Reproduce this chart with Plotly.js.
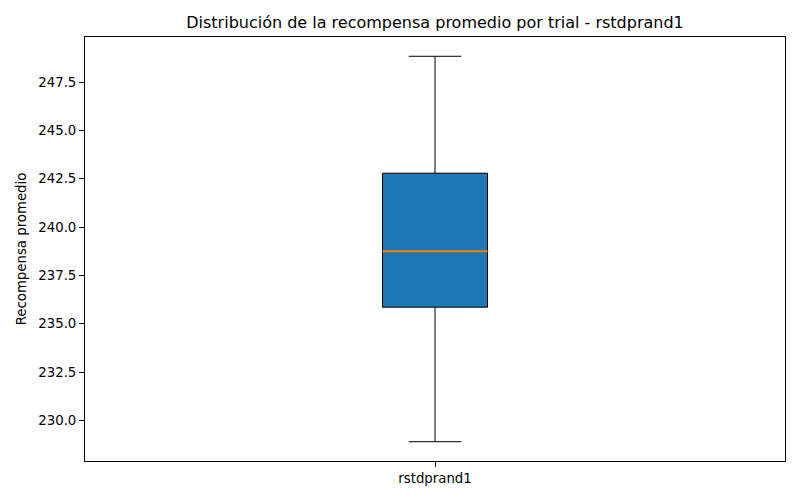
<!DOCTYPE html>
<html>
<head>
<meta charset="utf-8">
<script src="https://cdn.plot.ly/plotly-3.0.1.min.js"></script>
<style>html,body{margin:0;padding:0;background:#fff;}</style>
</head>
<body>
<div id="chart" style="width:800px;height:500px;"></div>
<script>
// Data
const categories = ['rstdprand1'];
const positions = [1];
const lowerWhisker = [228.90];
const q1Values = [235.86];
const medianValues = [238.75];
const q3Values = [242.79];
const upperWhisker = [248.84];
const yTickValues = [230.0, 232.5, 235.0, 237.5, 240.0, 242.5, 245.0, 247.5];
const yTickLabels = ['230.0', '232.5', '235.0', '237.5', '240.0', '242.5', '245.0', '247.5'];

const boxWidth = 0.15;
const font = 'DejaVu Sans, sans-serif';

// matplotlib-style 5% margins
const dataMin = Math.min(...lowerWhisker), dataMax = Math.max(...upperWhisker);
const pad = (dataMax - dataMin) * 0.05;

const boxTrace = {
  type: 'box',
  x: positions,
  q1: q1Values,
  median: medianValues,
  q3: q3Values,
  lowerfence: lowerWhisker,
  upperfence: upperWhisker,
  width: boxWidth,
  whiskerwidth: 0.5,
  fillcolor: '#1f77b4',
  line: {color: '#000000', width: 1},
  boxpoints: false,
  hoverinfo: 'none',
  showlegend: false
};

// orange median lines drawn above the box
const medianShapes = positions.map((p, i) => ({
  type: 'line', xref: 'x', yref: 'y', layer: 'above',
  x0: p - boxWidth / 2, x1: p + boxWidth / 2,
  y0: medianValues[i], y1: medianValues[i],
  line: {color: '#ff7f0e', width: 2}
}));

const layout = {
  width: 800, height: 500,
  paper_bgcolor: '#ffffff', plot_bgcolor: '#ffffff',
  margin: {l: 85, r: 15, t: 37, b: 39, pad: 0},
  font: {family: font, color: '#000000', size: 13.3},
  title: {
    text: 'Distribución de la recompensa promedio por trial - rstdprand1',
    font: {family: font, size: 16, color: '#000000'},
    x: 0.5, xref: 'paper', xanchor: 'center',
    y: 1 - 22 / 500, yref: 'container', yanchor: 'middle'
  },
  shapes: medianShapes,
  xaxis: {
    range: [0.5, 1.5],
    tickmode: 'array', tickvals: positions, ticktext: categories,
    showgrid: false, zeroline: false,
    showline: true, linecolor: '#000000', linewidth: 1, mirror: true,
    ticks: 'outside', ticklen: 5, tickcolor: '#000000', tickwidth: 1,
    tickfont: {family: font, size: 13.3, color: '#000000'}
  },
  yaxis: {
    range: [dataMin - pad, dataMax + pad],
    tickmode: 'array', tickvals: yTickValues, ticktext: yTickLabels,
    showgrid: false, zeroline: false,
    showline: true, linecolor: '#000000', linewidth: 1, mirror: true,
    ticks: 'outside', ticklen: 5, tickcolor: '#000000', tickwidth: 1,
    tickfont: {family: font, size: 13.3, color: '#000000'},
    title: {text: 'Recompensa promedio', font: {family: font, size: 13.3, color: '#000000'}, standoff: 8}
  }
};

Plotly.newPlot('chart', [boxTrace], layout, {staticPlot: true, displayModeBar: false});
</script>
</body>
</html>
